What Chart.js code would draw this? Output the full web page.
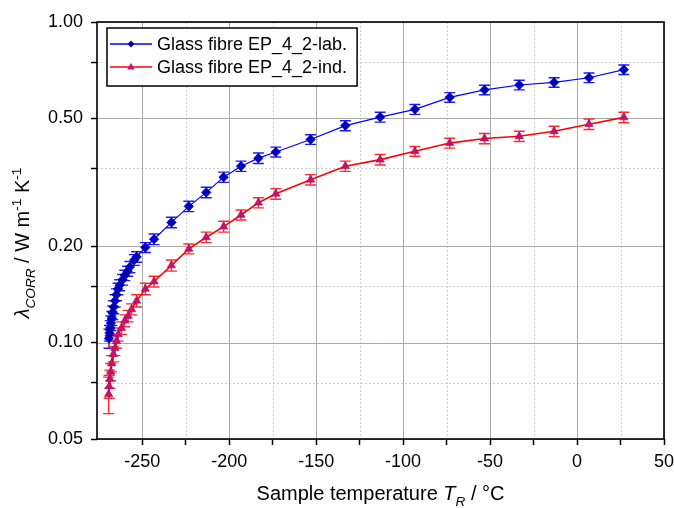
<!DOCTYPE html>
<html>
<head>
<meta charset="utf-8">
<title>Glass fibre EP_4_2 thermal conductivity</title>
<script src="https://cdn.jsdelivr.net/npm/chart.js@4.4.1/dist/chart.umd.min.js"></script>
<style>
  html, body { margin: 0; padding: 0; background: #fff; }
  #wrap { width: 674px; height: 508px; position: relative; }
</style>
</head>
<body>
<div id="wrap"><canvas id="lambdaChart"></canvas></div>
<script>
// corrected thermal conductivity of glass fibre EP_4_2, lab vs. ind. measurement

const seriesNames = ['Glass fibre EP_4_2-lab.', 'Glass fibre EP_4_2-ind.'];

// lab. series: sample temperature (°C), lambda (W/mK), error
const labTemps = [-269.1, -268.8, -268.4, -268.0, -267.5, -267.0, -266.4, -265.6, -264.8, -263.9,
                  -263.0, -261.3, -260.0, -258.4, -257.1, -254.6, -253.2, -248.2, -243.2, -233.2,
                  -223.2, -213.2, -203.2, -193.2, -183.2, -173.2, -153.2, -133.2, -113.2, -93.2,
                  -73.2, -53.2, -33.2, -13.2, 6.9, 26.9];
const labLambda = [0.103, 0.107, 0.111, 0.115, 0.119, 0.124, 0.129, 0.135, 0.141, 0.147,
                   0.151, 0.157, 0.162, 0.167, 0.172, 0.181, 0.185, 0.198, 0.210, 0.237,
                   0.266, 0.294, 0.328, 0.355, 0.376, 0.393, 0.430, 0.475, 0.505, 0.534,
                   0.582, 0.614, 0.636, 0.648, 0.670, 0.710];
const labErr = [0.007, 0.006, 0.006, 0.006, 0.006, 0.006, 0.006, 0.006, 0.006, 0.006,
                0.006, 0.006, 0.006, 0.006, 0.007, 0.007, 0.007, 0.007, 0.008, 0.009,
                0.010, 0.011, 0.012, 0.013, 0.014, 0.014, 0.015, 0.017, 0.018, 0.019,
                0.020, 0.021, 0.022, 0.022, 0.023, 0.024];

// ind. series
const indTemps = [-269.3, -269.0, -268.6, -268.1, -267.6, -266.6, -265.7, -264.8, -263.8, -261.9,
                  -260.0, -258.1, -256.1, -253.2, -248.2, -243.2, -233.2, -223.2, -213.2, -203.2,
                  -193.2, -183.2, -173.2, -153.2, -133.2, -113.2, -93.2, -73.2, -53.2, -33.2,
                  -13.2, 6.9, 26.9];
const indLambda = [0.069, 0.073, 0.077, 0.081, 0.086, 0.092, 0.096, 0.101, 0.106, 0.111,
                   0.117, 0.121, 0.127, 0.135, 0.147, 0.155, 0.174, 0.196, 0.213, 0.230,
                   0.250, 0.273, 0.291, 0.322, 0.355, 0.372, 0.395, 0.419, 0.433, 0.440,
                   0.456, 0.480, 0.504];
const indErr = [0.009, 0.006, 0.005, 0.005, 0.005, 0.005, 0.005, 0.005, 0.005, 0.005,
                0.005, 0.005, 0.005, 0.006, 0.006, 0.006, 0.007, 0.007, 0.008, 0.009,
                0.009, 0.010, 0.011, 0.012, 0.013, 0.014, 0.014, 0.015, 0.016, 0.016,
                0.017, 0.018, 0.019];

// axis ticks
const xMajorTicks = [-250, -200, -150, -100, -50, 0, 50];
const xMinorTicks = [-225, -175, -125, -75, -25, 25];
const yMajorTicks = [0.05, 0.1, 0.2, 0.5, 1.0];
const yMinorTicks = [0.075, 0.15, 0.35, 0.75];

const FONT = '"Liberation Sans", Arial, sans-serif';

const blueLine = '#0000ff';
const redLine = '#ff0000';

const toPoints = (xs, ys) => xs.map((x, i) => ({ x: x, y: ys[i] }));

// draw a run of text pieces (italic / sub / sup) starting at x, baseline y
function richWidth(ctx, parts, size) {
    let w = 0;
    parts.forEach(p => {
        const s = (p.sub || p.sup) ? size * 0.68 : size;
        ctx.font = (p.italic ? 'italic ' : '') + s + 'px ' + FONT;
        w += ctx.measureText(p.text).width;
    });
    return w;
}
function drawRich(ctx, parts, x, y, size) {
    ctx.textBaseline = 'alphabetic';
    ctx.textAlign = 'left';
    parts.forEach(p => {
        const s = (p.sub || p.sup) ? size * 0.68 : size;
        ctx.font = (p.italic ? 'italic ' : '') + s + 'px ' + FONT;
        let dy = 0;
        if (p.sub) dy = size * 0.28;
        if (p.sup) dy = -size * 0.42;
        ctx.fillText(p.text, x, y + dy);
        x += ctx.measureText(p.text).width;
    });
}

// grid lines: dotted minors, solid majors
const gridLines = {
    id: 'gridLines',
    beforeDatasetsDraw(chart) {
        const { ctx, chartArea: a, scales: { x, y } } = chart;
        ctx.save();
        ctx.lineWidth = 1;
        ctx.strokeStyle = '#cfcfcf';
        ctx.setLineDash([2, 2]);
        xMinorTicks.forEach(v => {
            const px = Math.round(x.getPixelForValue(v)) + 0.5;
            ctx.beginPath(); ctx.moveTo(px, a.top); ctx.lineTo(px, a.bottom); ctx.stroke();
        });
        yMinorTicks.forEach(v => {
            const py = Math.round(y.getPixelForValue(v)) + 0.5;
            ctx.beginPath(); ctx.moveTo(a.left, py); ctx.lineTo(a.right, py); ctx.stroke();
        });
        ctx.setLineDash([]);
        ctx.strokeStyle = '#a9a9a9';
        xMajorTicks.forEach(v => {
            const px = Math.round(x.getPixelForValue(v)) + 0.5;
            ctx.beginPath(); ctx.moveTo(px, a.top); ctx.lineTo(px, a.bottom); ctx.stroke();
        });
        yMajorTicks.forEach(v => {
            const py = Math.round(y.getPixelForValue(v)) + 0.5;
            ctx.beginPath(); ctx.moveTo(a.left, py); ctx.lineTo(a.right, py); ctx.stroke();
        });
        ctx.restore();
    }
};

// vertical error bars with caps, under the markers
const errorBars = {
    id: 'errorBars',
    beforeDatasetsDraw(chart) {
        const { ctx, scales: { x, y } } = chart;
        ctx.save();
        chart.data.datasets.forEach(ds => {
            ctx.strokeStyle = ds.errColor;
            ctx.lineWidth = 1.4;
            ds.data.forEach((pt, i) => {
                const e = ds.errors[i];
                const px = x.getPixelForValue(pt.x);
                const top = y.getPixelForValue(pt.y + e);
                const bot = y.getPixelForValue(pt.y - e);
                ctx.beginPath();
                ctx.moveTo(px, top); ctx.lineTo(px, bot);
                ctx.moveTo(px - 5.5, top); ctx.lineTo(px + 5.5, top);
                ctx.moveTo(px - 5.5, bot); ctx.lineTo(px + 5.5, bot);
                ctx.stroke();
            });
        });
        ctx.restore();
    }
};

// frame, legend box and axis titles
const decorations = {
    id: 'decorations',
    afterDraw(chart) {
        const { ctx, chartArea: a } = chart;
        ctx.save();
        ctx.strokeStyle = '#000';
        ctx.lineWidth = 1.6;
        ctx.strokeRect(a.left, a.top, a.right - a.left, a.bottom - a.top);

        // legend
        const lx = a.left + 10, ly = a.top + 6;
        ctx.font = '18px ' + FONT;
        const tw = Math.max(...seriesNames.map(n => ctx.measureText(n).width));
        const bw = 50 + tw + 10, bh = 58;
        ctx.fillStyle = '#fff';
        ctx.fillRect(lx, ly, bw, bh);
        ctx.lineWidth = 1.5;
        ctx.strokeRect(lx, ly, bw, bh);
        chart.data.datasets.forEach((ds, i) => {
            const cy = ly + 16 + i * 23;
            ctx.strokeStyle = ds.borderColor;
            ctx.lineWidth = 1.5;
            ctx.beginPath(); ctx.moveTo(lx + 3, cy); ctx.lineTo(lx + 45, cy); ctx.stroke();
            ctx.fillStyle = ds.pointBackgroundColor;
            ctx.beginPath();
            const mx = lx + 24;
            if (ds.pointStyle === 'rectRot') {
                ctx.moveTo(mx, cy - 3.5); ctx.lineTo(mx + 3.5, cy); ctx.lineTo(mx, cy + 3.5); ctx.lineTo(mx - 3.5, cy);
            } else {
                ctx.moveTo(mx, cy - 4); ctx.lineTo(mx + 3.8, cy + 2.5); ctx.lineTo(mx - 3.8, cy + 2.5);
            }
            ctx.closePath(); ctx.fill();
            ctx.fillStyle = '#000';
            ctx.font = '18px ' + FONT;
            ctx.textBaseline = 'middle';
            ctx.textAlign = 'left';
            ctx.fillText(seriesNames[i], lx + 50, cy + 1);
        });

        // x title
        ctx.fillStyle = '#000';
        const xParts = [
            { text: 'Sample temperature ' },
            { text: 'T', italic: true },
            { text: 'R', italic: true, sub: true },
            { text: ' / °C' }
        ];
        const xw = richWidth(ctx, xParts, 20);
        drawRich(ctx, xParts, (a.left + a.right) / 2 - xw / 2, 500, 20);

        // y title, rotated
        const yParts = [
            { text: 'λ', italic: true },
            { text: 'CORR', italic: true, sub: true },
            { text: ' / W m' },
            { text: '-1', sup: true },
            { text: ' K' },
            { text: '-1', sup: true }
        ];
        const yw = richWidth(ctx, yParts, 20);
        ctx.translate(29, 243);
        ctx.rotate(-Math.PI / 2);
        drawRich(ctx, yParts, -yw / 2, 0, 20);
        ctx.restore();
    }
};

const ctx = document.getElementById('lambdaChart').getContext('2d');
const lambdaChart = new Chart(ctx, {
    type: 'line',
    data: {
        datasets: [{
            label: seriesNames[0],
            data: toPoints(labTemps, labLambda),
            errors: labErr,
            errColor: '#1a1aff',
            borderColor: blueLine,
            borderWidth: 1.2,
            pointStyle: 'rectRot',
            pointRadius: 4.8,
            pointBackgroundColor: '#0000c0',
            pointBorderColor: '#000090',
            pointBorderWidth: 0.6,
            tension: 0
        }, {
            label: seriesNames[1],
            data: toPoints(indTemps, indLambda),
            errors: indErr,
            errColor: '#ff2a2a',
            borderColor: redLine,
            borderWidth: 1.6,
            pointStyle: 'triangle',
            pointRadius: 4.8,
            pointBackgroundColor: '#c81070',
            pointBorderColor: '#a0105a',
            pointBorderWidth: 0.6,
            tension: 0
        }]
    },
    options: {
        responsive: true,
        maintainAspectRatio: false,
        animation: false,
        layout: { padding: { left: 0, top: 22, right: 10, bottom: 0 } },
        plugins: {
            legend: { display: false },
            tooltip: { enabled: false }
        },
        scales: {
            x: {
                type: 'linear',
                min: -276,
                max: 50,
                afterBuildTicks: scale => {
                    scale.ticks = xMajorTicks.concat(xMinorTicks).sort((p, q) => p - q).map(v => ({ value: v }));
                },
                afterFit: scale => {
                    scale.height = 69;
                    scale.paddingLeft = 0;
                    scale.paddingRight = 0;
                },
                grid: { drawOnChartArea: false, tickLength: 6, tickColor: '#000', tickWidth: 1.5 },
                border: { display: false },
                ticks: {
                    autoSkip: false,
                    maxRotation: 0,
                    padding: 6,
                    color: '#000',
                    font: { family: FONT, size: 18 },
                    callback: v => xMajorTicks.includes(v) ? String(v) : ''
                }
            },
            y: {
                type: 'logarithmic',
                min: 0.05,
                max: 1.0,
                afterBuildTicks: scale => {
                    scale.ticks = yMajorTicks.concat(yMinorTicks).sort((p, q) => p - q).map(v => ({ value: v }));
                },
                afterFit: scale => {
                    scale.width = 97;
                    scale.paddingTop = 0;
                    scale.paddingBottom = 0;
                },
                grid: { drawOnChartArea: false, tickLength: 6, tickColor: '#000', tickWidth: 1.5 },
                border: { display: false },
                ticks: {
                    autoSkip: false,
                    padding: 8,
                    color: '#000',
                    font: { family: FONT, size: 18 },
                    callback: v => yMajorTicks.includes(v) ? v.toFixed(2) : ''
                }
            }
        }
    },
    plugins: [gridLines, errorBars, decorations]
});
</script>
</body>
</html>
